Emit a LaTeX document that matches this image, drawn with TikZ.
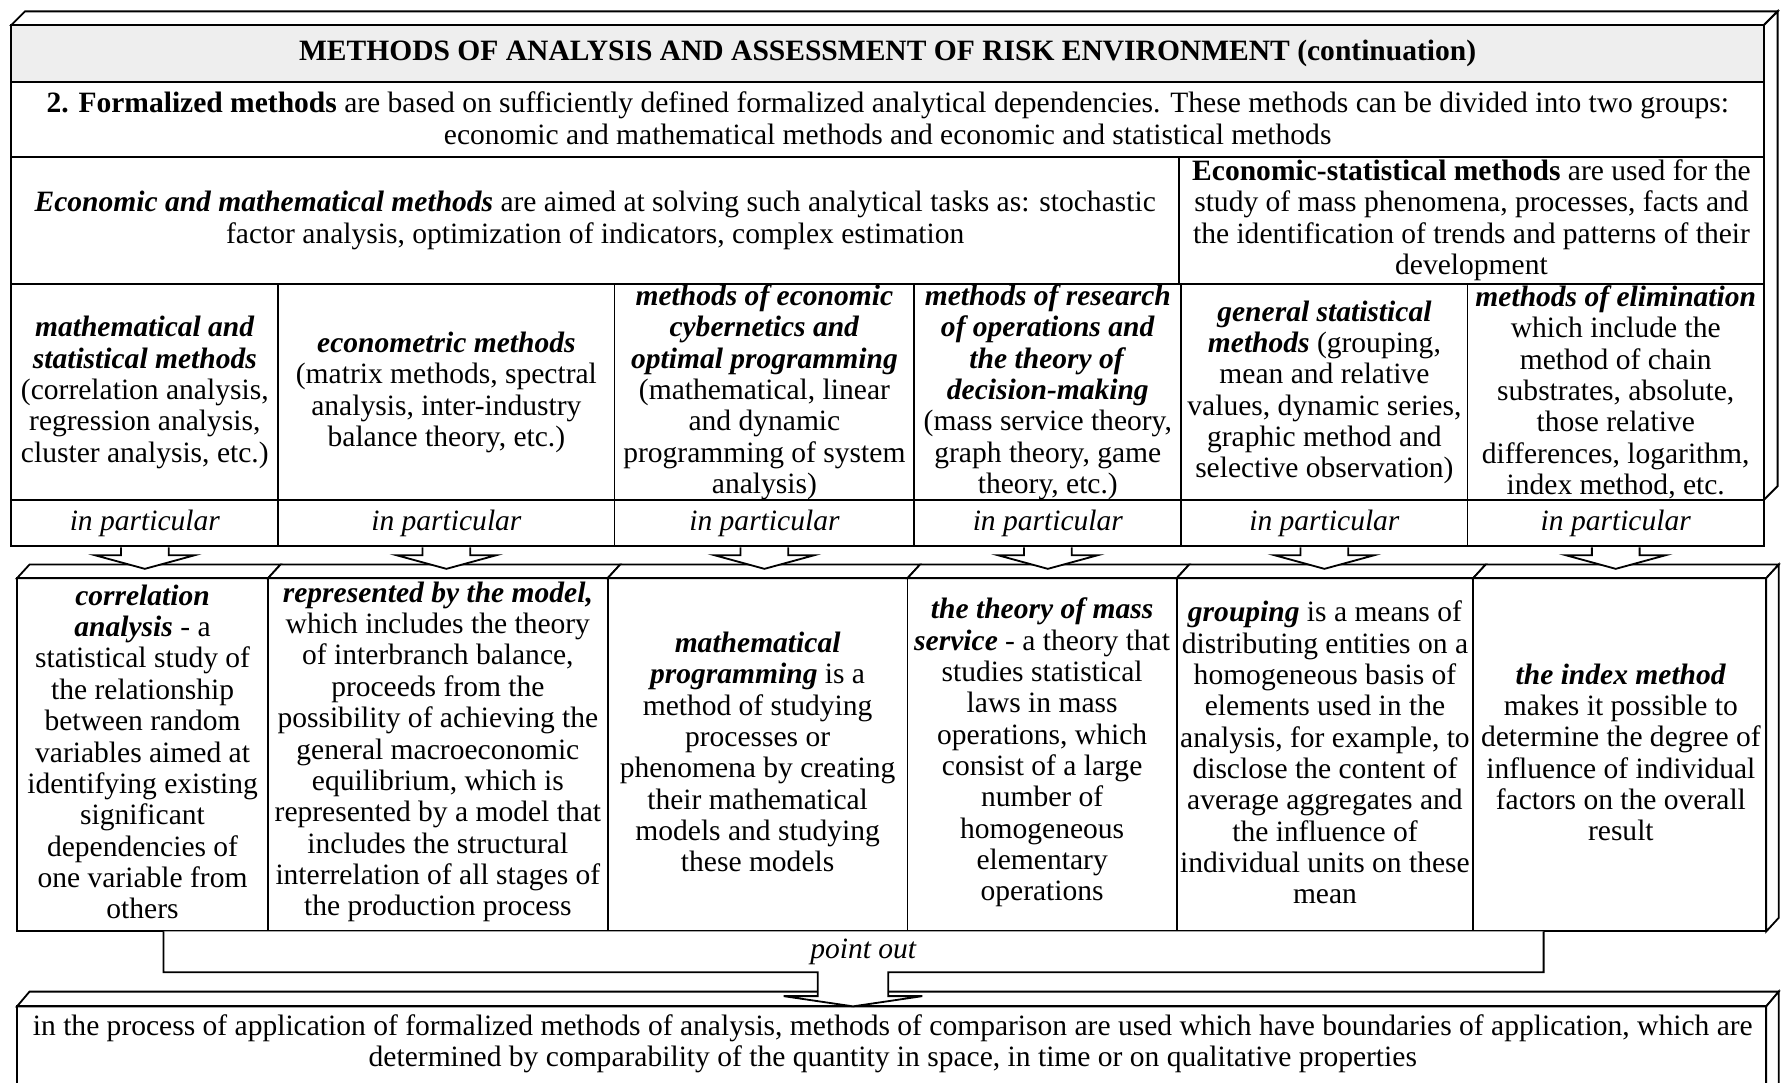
\documentclass[tikz,border=0pt]{standalone}
\usepackage{fontspec}
\setmainfont{Liberation Serif}
\usetikzlibrary{calc}
\definecolor{titlegray}{RGB}{238,238,238}
\tikzset{
  boxline/.style={draw=black, line width=1.6pt, line join=miter},
  cellbox/.style={draw=black, line width=1.6pt, rectangle, inner sep=0pt},
  txt/.style={inner sep=0pt, align=center, font=\fontsize{26}{27.6}\selectfont},
  ipcell/.style={cellbox, minimum height=41pt, font=\fontsize{26}{27.6}\selectfont\itshape},
  arrowline/.style={draw=black, line width=1.6pt, fill=white, line join=miter},
}
\newcommand\bi[1]{\textbf{\textit{#1}}}
\newcommand\ipArrow[1]{%
  \draw[arrowline] ($(#1.south)+(-21,0)$) -- ++(0,7) -- ++(-23,0)
    -- ($(#1.south)+(0,19)$) -- ($(#1.south)+(44,7)$) -- ++(-23,0) -- ++(0,-7);}
\begin{document}
\begin{tikzpicture}[x=1pt,y=-1pt]
\clip (0,0) rectangle (1568,953);
\fill[white] (0,0) rectangle (1568,953);

% ---------- top 3D box ----------
\draw[boxline, fill=white] (10,22) -- (22,10) -- (1565,10) -- (1553,22) -- cycle;
\draw[boxline, fill=white] (1553,22) -- (1565,10) -- (1565,428) -- (1553,440) -- cycle;
\node[cellbox, fill=titlegray, minimum width=1543pt, minimum height=50pt] (title) at (781.5,47) {};
\node[cellbox, minimum width=1543pt, minimum height=66pt] (formal) at (781.5,105) {};
\node[cellbox, minimum width=1028pt, minimum height=112pt] (econmath) at (524,194) {};
\node[cellbox, minimum width=515pt, minimum height=112pt] (econstat) at (1295.5,194) {};
\node[cellbox, minimum width=235pt, minimum height=190pt] (c1) at (127.5,345) {};
\node[cellbox, minimum width=296pt, minimum height=190pt] (c2) at (393,345) {};
\node[cellbox, minimum width=264pt, minimum height=190pt] (c3) at (673,345) {};
\node[cellbox, minimum width=235pt, minimum height=190pt] (c4) at (922.5,345) {};
\node[cellbox, minimum width=252pt, minimum height=190pt] (c5) at (1166,345) {};
\node[cellbox, minimum width=261pt, minimum height=190pt] (c6) at (1422.5,345) {};

\node[txt, font=\fontsize{26}{27.6}\selectfont\bfseries] (titletxt) at (781.5,47)
  {METHODS OF ANALYSIS AND ASSESSMENT OF RISK ENVIRONMENT (continuation)};
\node[txt] (formaltxt) at (781.5,104)
  {\textbf{2. Formalized methods} are based on sufficiently defined formalized analytical dependencies. These methods can be divided into two groups:\\
   economic and mathematical methods and economic and statistical methods};
\node[txt] (econmathtxt) at (524,194)
  {\bi{Economic and mathematical methods} are aimed at solving such analytical tasks as: stochastic\\
   factor analysis, optimization of indicators, complex estimation};
\node[txt] (econstattxt) at (1295.5,194)
  {\textbf{Economic-statistical methods} are used for the\\
   study of mass phenomena, processes, facts and\\
   the identification of trends and patterns of their\\
   development};
\node[txt] (c1txt) at (127.5,345.5)
  {\bi{mathematical and}\\ \bi{statistical methods}\\ (correlation analysis,\\ regression analysis,\\ cluster analysis, etc.)};
\node[txt] (c2txt) at (393,345.5)
  {\bi{econometric methods}\\ (matrix methods, spectral\\ analysis, inter-industry\\ balance theory, etc.)};
\node[txt] (c3txt) at (673,345.5)
  {\bi{methods of economic}\\ \bi{cybernetics and}\\ \bi{optimal programming}\\ (mathematical, linear\\ and dynamic\\ programming of system\\ analysis)};
\node[txt] (c4txt) at (922.5,345.5)
  {\bi{methods of research}\\ \bi{of operations and}\\ \bi{the theory of}\\ \bi{decision-making}\\ (mass service theory,\\ graph theory, game\\ theory, etc.)};
\node[txt] (c5txt) at (1166,345.5)
  {\bi{general statistical}\\ \bi{methods} (grouping,\\ mean and relative\\ values, dynamic series,\\ graphic method and\\ selective observation)};
\node[txt] (c6txt) at (1422.5,345.5)
  {\bi{methods of elimination}\\ which include the\\ method of chain\\ substrates, absolute,\\ those relative\\ differences, logarithm,\\ index method, etc.};

% ---------- in particular row ----------
\node[ipcell, minimum width=235pt] (ip1) at (127.5,460.5) {in particular};
\node[ipcell, minimum width=296pt] (ip2) at (393,460.5) {in particular};
\node[ipcell, minimum width=264pt] (ip3) at (673,460.5) {in particular};
\node[ipcell, minimum width=235pt] (ip4) at (922.5,460.5) {in particular};
\node[ipcell, minimum width=252pt] (ip5) at (1166,460.5) {in particular};
\node[ipcell, minimum width=261pt] (ip6) at (1422.5,460.5) {in particular};

% ---------- lower 3D boxes ----------
\foreach \a/\b in {15/236, 236/535, 535/799, 799/1036, 1036/1297, 1297/1555}
  \draw[boxline, fill=white] (\a,509) -- (\a+11,497) -- (\b+11,497) -- (\b,509) -- cycle;
\draw[boxline, fill=white] (1555,509) -- (1566,497) -- (1566,808) -- (1555,820) -- cycle;
\node[cellbox, minimum width=221pt, minimum height=311pt] (l1) at (125.5,664.5) {};
\node[cellbox, minimum width=299pt, minimum height=311pt] (l2) at (385.5,664.5) {};
\node[cellbox, minimum width=264pt, minimum height=311pt] (l3) at (667,664.5) {};
\node[cellbox, minimum width=237pt, minimum height=311pt] (l4) at (917.5,664.5) {};
\node[cellbox, minimum width=261pt, minimum height=311pt] (l5) at (1166.5,664.5) {};
\node[cellbox, minimum width=258pt, minimum height=311pt] (l6) at (1426,664.5) {};

\node[txt] (l1txt) at (125.5,662)
  {\bi{correlation}\\ \bi{analysis} - a\\ statistical study of\\ the relationship\\ between random\\ variables aimed at\\ identifying existing\\ significant\\ dependencies of\\ one variable from\\ others};
\node[txt] (l2txt) at (385.5,662)
  {\bi{represented by the model,}\\ which includes the theory\\ of interbranch balance,\\ proceeds from the\\ possibility of achieving the\\ general macroeconomic\\ equilibrium, which is\\ represented by a model that\\ includes the structural\\ interrelation of all stages of\\ the production process};
\node[txt] (l3txt) at (667,662)
  {\bi{mathematical}\\ \bi{programming} is a\\ method of studying\\ processes or\\ phenomena by creating\\ their mathematical\\ models and studying\\ these models};
\node[txt] (l4txt) at (917.5,662.5)
  {\bi{the theory of mass}\\ \bi{service} - a theory that\\ studies statistical\\ laws in mass\\ operations, which\\ consist of a large\\ number of\\ homogeneous\\ elementary\\ operations};
\node[txt] (l5txt) at (1166.5,662.5)
  {\bi{grouping} is a means of\\ distributing entities on a\\ homogeneous basis of\\ elements used in the\\ analysis, for example, to\\ disclose the content of\\ average aggregates and\\ the influence of\\ individual units on these\\ mean};
\node[txt] (l6txt) at (1427,662.5)
  {\bi{the index method}\\ makes it possible to\\ determine the degree of\\ influence of individual\\ factors on the overall\\ result};

% ---------- arrows from in particular ----------
\ipArrow{ip1}
\ipArrow{ip2}
\ipArrow{ip3}
\ipArrow{ip4}
\ipArrow{ip5}
\ipArrow{ip6}

% ---------- final 3D box ----------
\draw[boxline, fill=white] (15,886) -- (26,873) -- (1566,873) -- (1555,886) -- cycle;
\draw[boxline, fill=white] (1555,886) -- (1566,873) -- (1566,970) -- (1555,980) -- cycle;
\node[cellbox, minimum width=1540pt, minimum height=100pt] (final) at (785,936) {};
\node[txt] (finaltxt) at (786,919)
  {in the process of application of formalized methods of analysis, methods of comparison are used which have boundaries of application, which are\\
   determined by comparability of the quantity in space, in time or on qualitative properties};

% ---------- point out connector ----------
\coordinate (po1) at (144,820);
\coordinate (po2) at (1359,820);
\coordinate (potip) at (751,886);
\draw[arrowline] (po1) -- (144,856) -- (720,856) -- (720,877) -- (690,877)
  -- (potip) -- (812,877) -- (782,877) -- (782,856) -- (1359,856) -- (po2);
\node[txt, font=\fontsize{26}{27.6}\selectfont\itshape] (pointout) at (760,838) {point out};
\end{tikzpicture}
\end{document}
